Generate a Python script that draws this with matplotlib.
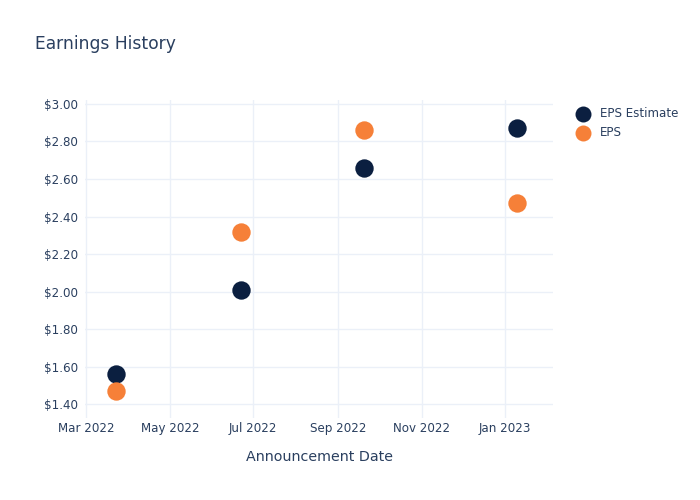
import datetime
import matplotlib
matplotlib.use('Agg')
import matplotlib.pyplot as plt
import matplotlib.dates as mdates
from matplotlib.ticker import FuncFormatter

# data
dates = [datetime.date(2022, 3, 23), datetime.date(2022, 6, 22),
         datetime.date(2022, 9, 20), datetime.date(2023, 1, 10)]
eps_estimate = [1.56, 2.01, 2.66, 2.87]
eps_actual = [1.47, 2.32, 2.86, 2.47]
series_names = ['EPS Estimate', 'EPS']

textcol = '#2a3f5f'
gridcol = '#ebf0f8'
navy = '#0b1f40'
orange = '#f68038'

fig = plt.figure(figsize=(7, 5), dpi=100)
ax = fig.add_axes([85/700, 82/500, 468/700, 318/500])

ax.scatter(dates, eps_estimate, s=175, color=navy, zorder=3, linewidths=0, label=series_names[0])
ax.scatter(dates, eps_actual, s=175, color=orange, zorder=3, linewidths=0, label=series_names[1])

ax.set_xlim(datetime.date(2022, 2, 28), datetime.date(2023, 2, 5))
ax.set_ylim(1.327, 3.021)
ax.set_yticks([1.4, 1.6, 1.8, 2.0, 2.2, 2.4, 2.6, 2.8, 3.0])
ax.yaxis.set_major_formatter(FuncFormatter(lambda v, p: '${:.2f}'.format(v)))
ax.xaxis.set_major_locator(mdates.MonthLocator(bymonth=[1, 3, 5, 7, 9, 11]))
ax.xaxis.set_major_formatter(mdates.DateFormatter('%b %Y'))

for s in ax.spines.values():
    s.set_visible(False)
ax.grid(True, color=gridcol, linewidth=1, zorder=0)
ax.set_axisbelow(True)
ax.tick_params(length=0, labelsize=8.6, labelcolor=textcol)
ax.tick_params(axis='x', pad=3)
ax.tick_params(axis='y', pad=5)

ax.set_xlabel('Announcement Date', fontsize=10.3, color=textcol, labelpad=11)
fig.text(35/700, 1 - 44/500, 'Earnings History', fontsize=12.3, color=textcol, va='center')

leg = fig.legend(loc='upper left', bbox_to_anchor=(566/700, 1 - 102/500), frameon=False,
                 fontsize=8.6, labelcolor=textcol, handletextpad=0.45, borderaxespad=0,
                 labelspacing=0.55, markerscale=0.87)

fig.savefig('out.png', dpi=100)
